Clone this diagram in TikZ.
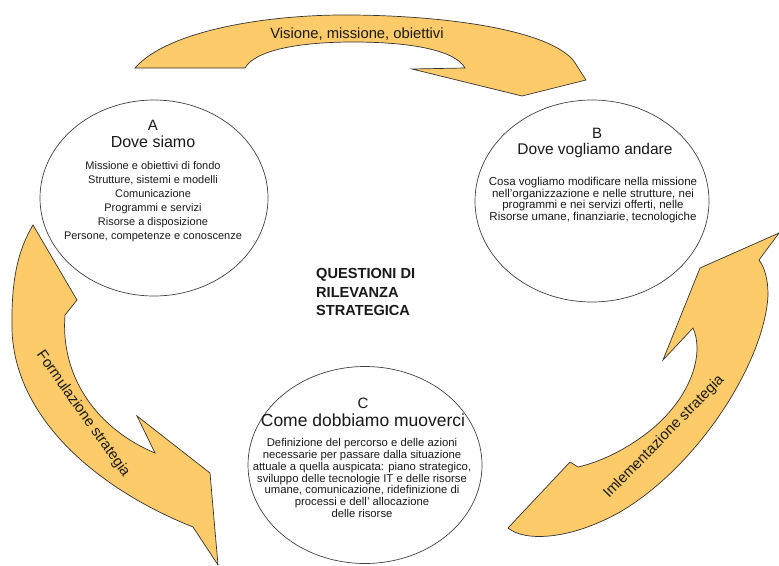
\documentclass[tikz,border=0pt]{standalone}
\usepackage{fontspec}
\setmainfont{Liberation Sans}
\usetikzlibrary{shapes.geometric}
\definecolor{arrowyellow}{RGB}{253,203,105}
\definecolor{inkgray}{RGB}{25,25,25}
\begin{document}
\begin{tikzpicture}[x=1pt,y=-1pt,
  bigarrow/.style={fill=arrowyellow, draw=black!80, line width=0.7pt, line join=miter},
  bubble/.style={ellipse, draw=black!75, line width=0.7pt, inner sep=0pt},
  letter/.style={text=inkgray, inner sep=0pt, font=\fontsize{15}{17}\selectfont},
  heading/.style={text=inkgray, inner sep=0pt},
  body/.style={text=inkgray, inner sep=0pt, align=center},
  arrowlabel/.style={text=inkgray, inner sep=0pt, font=\fontsize{14.8}{17}\selectfont}]
\useasboundingbox (0,0) rectangle (779,565);

% the three phases
\node[bubble, minimum width=228pt, minimum height=196pt] (cA) at (154,198) {};
\node[bubble, minimum width=234pt, minimum height=202pt] (cB) at (592,201) {};
\node[bubble, minimum width=234pt, minimum height=197pt] (cC) at (365,465) {};

% top arrow: A -> B
\draw[bigarrow] (135,68) .. controls (168,30) and (270,14) .. (353,15)
  .. controls (455,16) and (560,32) .. (577,66) -- (586,80) -- (522,96)
  -- (412,69) -- (465,68)
  .. controls (455,50) and (410,42) .. (353,42)
  .. controls (300,42) and (255,50) .. (245,68) -- cycle;

% left arrow: A -> C
\draw[bigarrow] (33,225) -- (77,300) -- (65,315)
  .. controls (60,380) and (100,430) .. (155,453) -- (137,416) -- (210,473)
  -- (218,565) -- (193,527)
  .. controls (100,490) and (15,420) .. (12,330)
  .. controls (11,280) and (18,250) .. (33,225) -- cycle;

% right arrow: C -> B
\draw[bigarrow] (570,462) -- (508,528)
  .. controls (525,542) and (570,540) .. (620,512)
  .. controls (700,465) and (765,360) .. (768,295)
  .. controls (768,280) and (765,268) .. (759,260) -- (779,233) -- (700,268)
  -- (663,360) -- (693,328)
  .. controls (705,355) and (690,400) .. (647,433)
  .. controls (625,450) and (600,462) .. (578,467) -- cycle;

% arrow labels
\node[arrowlabel] (lvis) at (357,34) {Visione, missione, obiettivi};
\node[arrowlabel, rotate=-54.6] (lform) at (83,414) {Formulazione strategia};
\node[arrowlabel, rotate=45.7] (limpl) at (664,437) {Imlementazione strategia};

% A
\node[letter] (tA) at (153,125) {A};
\node[heading, font=\fontsize{16}{19}\selectfont] (hA) at (153,142) {Dove siamo};
\node[body, font=\fontsize{11}{14}\selectfont] (bA) at (153,202) {Missione e obiettivi di fondo\\
Strutture, sistemi e modelli\\
Comunicazione\\
Programmi e servizi\\
Risorse a disposizione\\
Persone, competenze e conoscenze};

% B
\node[letter] (tB) at (597,133) {B};
\node[heading, font=\fontsize{15.5}{18}\selectfont] (hB) at (595,150) {Dove vogliamo andare};
\node[body, font=\fontsize{11.5}{11.7}\selectfont] (bB) at (593,200) {Cosa vogliamo modificare nella missione\\
nell’organizzazione e nelle strutture, nei\\
programmi e nei servizi offerti, nelle\\
Risorse umane, finanziarie, tecnologiche};

% C
\node[letter] (tC) at (363,403) {C};
\node[heading, font=\fontsize{17.5}{20}\selectfont] (hC) at (363,420) {Come dobbiamo muoverci};
\node[body, font=\fontsize{11.3}{11.9}\selectfont] (bC) at (362,478) {Definizione del percorso e delle azioni\\
necessarie per passare dalla situazione\\
attuale a quella auspicata: piano strategico,\\
sviluppo delle tecnologie IT e  delle risorse\\
umane, comunicazione, ridefinizione di\\
processi e dell’ allocazione\\
delle risorse};

% centre caption
\node[text=inkgray, inner sep=0pt, align=left, anchor=west,
      font=\bfseries\fontsize{14.6}{18.5}\selectfont] (core) at (316,292)
  {QUESTIONI DI\\ RILEVANZA\\ STRATEGICA};
\end{tikzpicture}
\end{document}
